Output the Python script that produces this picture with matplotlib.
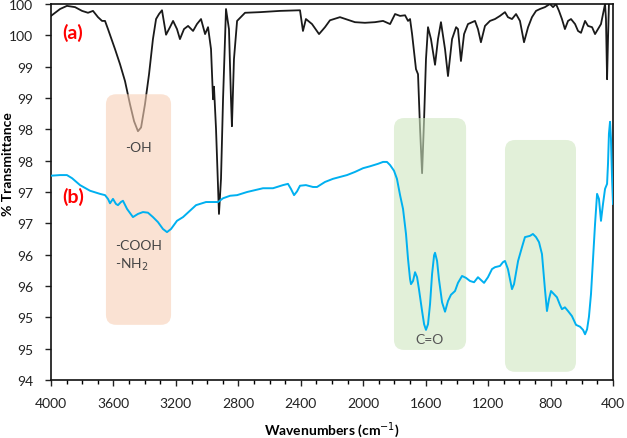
import matplotlib
matplotlib.use("Agg")
import matplotlib.pyplot as plt
from matplotlib.patches import FancyBboxPatch

plt.rcParams['font.family'] = ['Lato', 'DejaVu Sans']

# ---- data ----
wn_a = [4000, 3942, 3898, 3846, 3801, 3763, 3731, 3699, 3673, 3654, 3635, 3590, 3558, 3526, 3494, 3468,
        3443, 3423, 3398, 3372, 3347, 3327, 3308, 3289, 3263, 3238, 3218, 3193, 3174, 3148, 3122, 3090,
        3065, 3039, 3013, 2994, 2975, 2962, 2956, 2943, 2924, 2911, 2898, 2879, 2860, 2847, 2841, 2828,
        2808, 2757, 2661, 2533, 2405, 2386, 2367, 2328, 2283, 2245, 2213, 2149, 2053, 1989, 1925, 1873,
        1828, 1796, 1764, 1732, 1713, 1700, 1687, 1662, 1649, 1636, 1623, 1610, 1598, 1585, 1566, 1540,
        1521, 1502, 1476, 1457, 1431, 1405, 1393, 1374, 1354, 1329, 1284, 1265, 1246, 1220, 1188, 1156,
        1124, 1092, 1073, 1047, 1021, 996, 970, 944, 919, 893, 868, 836, 804, 784, 765, 746, 727, 708,
        688, 669, 643, 624, 605, 579, 560, 534, 515, 496, 477, 464, 451, 445, 438, 432, 426, 413, 400]
tr_a = [99.81, 99.92, 99.97, 99.95, 99.89, 99.86, 99.89, 99.79, 99.73, 99.73, 99.60, 99.28, 99.04, 98.77,
        98.40, 98.13, 97.97, 98.03, 98.40, 98.88, 99.44, 99.76, 99.84, 99.90, 99.51, 99.63, 99.73, 99.60,
        99.44, 99.60, 99.65, 99.57, 99.68, 99.76, 99.52, 99.63, 99.28, 98.48, 98.68, 98.01, 96.65, 97.21,
        98.48, 99.92, 99.60, 98.48, 98.05, 99.12, 99.73, 99.86, 99.87, 99.89, 99.90, 99.57, 99.76, 99.68,
        99.52, 99.63, 99.74, 99.79, 99.71, 99.70, 99.71, 99.73, 99.68, 99.84, 99.81, 99.82, 99.73, 99.76,
        99.52, 98.96, 98.88, 98.01, 97.30, 98.17, 99.12, 99.63, 99.44, 99.03, 99.44, 99.71, 99.28, 98.85,
        99.44, 99.63, 99.60, 99.09, 99.52, 99.68, 99.73, 99.60, 99.39, 99.65, 99.73, 99.76, 99.81, 99.87,
        99.79, 99.76, 99.84, 99.73, 99.39, 99.63, 99.79, 99.89, 99.92, 99.95, 100.0, 99.95, 100.0, 99.89,
        99.76, 99.60, 99.73, 99.76, 99.68, 99.57, 99.54, 99.73, 99.65, 99.63, 99.52, 99.60, 99.68, 99.84,
        100.0, 99.76, 98.80, 99.44, 100.0, 100.05, 100.05]

wn_b = [4000, 3942, 3898, 3865, 3814, 3750, 3686, 3654, 3635, 3622, 3603, 3584, 3571, 3552, 3539, 3513,
        3475, 3443, 3411, 3379, 3347, 3315, 3283, 3257, 3231, 3193, 3154, 3110, 3071, 3045, 3007, 2969,
        2930, 2898, 2853, 2808, 2744, 2693, 2642, 2578, 2514, 2482, 2463, 2443, 2424, 2405, 2367, 2322,
        2296, 2245, 2194, 2149, 2104, 2053, 2001, 1957, 1905, 1873, 1848, 1828, 1803, 1784, 1764, 1745,
        1726, 1713, 1700, 1694, 1681, 1668, 1655, 1643, 1623, 1610, 1598, 1585, 1572, 1559, 1546, 1540,
        1527, 1515, 1495, 1476, 1457, 1438, 1412, 1393, 1367, 1342, 1316, 1290, 1265, 1252, 1226, 1201,
        1175, 1156, 1124, 1105, 1092, 1073, 1060, 1047, 1034, 1008, 983, 964, 932, 913, 893, 874, 855,
        836, 823, 810, 797, 778, 759, 740, 727, 708, 688, 663, 637, 611, 592, 579, 566, 554, 541, 528,
        515, 502, 490, 477, 464, 451, 438, 432, 426, 419, 413, 406, 400]
tr_b = [97.26, 97.27, 97.27, 97.22, 97.11, 97.02, 96.97, 96.95, 96.89, 96.82, 96.89, 96.81, 96.79, 96.84,
        96.86, 96.73, 96.60, 96.65, 96.68, 96.67, 96.60, 96.52, 96.41, 96.36, 96.41, 96.54, 96.60, 96.70,
        96.79, 96.81, 96.84, 96.84, 96.84, 96.90, 96.94, 96.95, 97.00, 97.03, 97.06, 97.06, 97.11, 97.13,
        97.05, 96.95, 97.01, 97.10, 97.11, 97.08, 97.08, 97.16, 97.21, 97.24, 97.27, 97.32, 97.38, 97.41,
        97.45, 97.48, 97.48, 97.43, 97.34, 97.21, 96.95, 96.73, 96.33, 95.93, 95.61, 95.53, 95.58, 95.72,
        95.64, 95.45, 95.10, 94.89, 94.80, 94.89, 95.21, 95.69, 95.99, 96.03, 95.90, 95.61, 95.24, 95.09,
        95.26, 95.36, 95.42, 95.55, 95.66, 95.63, 95.58, 95.56, 95.64, 95.61, 95.55, 95.64, 95.77, 95.80,
        95.82, 95.88, 95.90, 95.77, 95.61, 95.45, 95.53, 95.90, 96.12, 96.28, 96.30, 96.33, 96.28, 96.20,
        96.01, 95.45, 95.10, 95.29, 95.42, 95.37, 95.32, 95.20, 95.13, 95.16, 95.10, 95.02, 94.88, 94.85,
        94.80, 94.73, 94.81, 95.01, 95.37, 95.93, 96.49, 96.97, 96.89, 96.54, 96.81, 97.05, 97.13, 97.45,
        97.93, 98.12, 97.85, 97.21, 96.81]

x_ticks = [4000, 3600, 3200, 2800, 2400, 2000, 1600, 1200, 800, 400]
y_ticks = [94, 94.5, 95, 95.5, 96, 96.5, 97, 97.5, 98, 98.5, 99, 99.5, 100]
y_tick_labels = ["94", "95", "95", "96", "96", "97", "97", "98", "98", "99", "99", "100", "100"]

# highlight regions: (wn_left, wn_right, tr_bottom, tr_top)
regions = [(3648, 3231, 94.88, 98.56, "#F8D0B6"),
           (1803, 1341, 94.48, 98.18, "#CFE6C0"),
           (1092, 637, 94.13, 97.83, "#CFE6C0")]

fig = plt.figure(figsize=(6.27, 4.39), dpi=100)
ax = fig.add_axes([51/627, 1-381/439, (613-51)/627, (381-5)/439])
ax.set_xlim(4000, 400)
ax.set_ylim(94, 100)

ax.plot(wn_a, tr_a, color="#1a1a1a", lw=1.3, zorder=2)

for wl, wr, yb, yt, col in regions:
    fx0 = (4000 - wl) / 3600
    fx1 = (4000 - wr) / 3600
    fy0 = (yb - 94) / 6
    fy1 = (yt - 94) / 6
    p = FancyBboxPatch((fx0, fy0), fx1 - fx0, fy1 - fy0,
                       boxstyle="round,pad=0,rounding_size=0.018",
                       mutation_aspect=562/376,
                       transform=ax.transAxes, facecolor=col, edgecolor="none",
                       alpha=0.6, zorder=3)
    ax.add_patch(p)

ax.plot(wn_b, tr_b, color="#00B0F0", lw=1.4, zorder=4)

ax.set_xticks(x_ticks)
ax.set_xticklabels([str(t) for t in x_ticks])
ax.set_xticks(range(400, 4001, 100), minor=True)
ax.set_yticks(y_ticks)
ax.set_yticklabels(y_tick_labels)
ax.tick_params(axis='both', which='major', direction='out', length=4, width=1, labelsize=10, colors='#222222')
ax.tick_params(axis='x', which='minor', direction='out', length=3, width=1)
ax.tick_params(axis='x', pad=8)
ax.tick_params(axis='y', pad=9)
for s in ax.spines.values():
    s.set_linewidth(1.2)
    s.set_color('#111111')

ax.set_xlabel("Wavenumbers (cm$^{-1}$)", fontsize=10, fontweight='bold')
ax.xaxis.label.set_va('center')
ax.xaxis.set_label_coords(0.5, (381 - 430) / 376)
ax.set_ylabel("% Transmittance", fontsize=10, fontweight='bold')
ax.yaxis.label.set_va('center')
ax.yaxis.set_label_coords((8 - 51) / 562, (381 - 164) / 376)

ax.text(3925, 99.55, "(a)", color="red", fontsize=14, fontweight='bold', va='center', zorder=5)
ax.text(3925, 96.94, "(b)", color="red", fontsize=14, fontweight='bold', va='center', zorder=5)
ax.text(3440, 97.72, "-OH", color="#444444", fontsize=10, ha='center', va='center', zorder=5)
ax.text(3590, 96.16, "-COOH", color="#444444", fontsize=10, ha='left', va='center', zorder=5)
ax.text(3590, 95.85, "-NH$_2$", color="#444444", fontsize=10, ha='left', va='center', zorder=5)
ax.text(1575, 94.65, "C=O", color="#555555", fontsize=10, ha='center', va='center', zorder=5)

fig.savefig("out.png", dpi=100)
